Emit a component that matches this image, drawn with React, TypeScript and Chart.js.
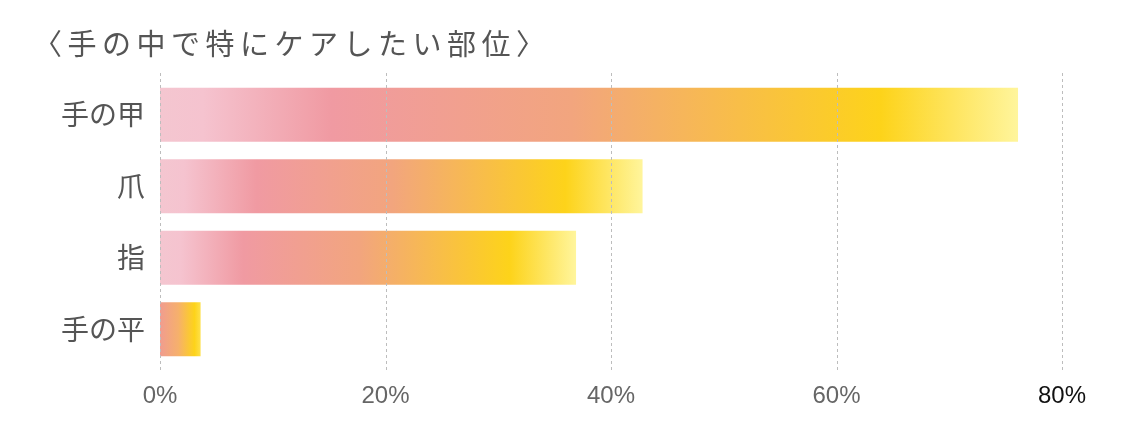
import React, { useEffect, useRef } from 'react';
import Chart from 'chart.js/auto';

const title = '〈手の中で特にケアしたい部位〉';
const categories = ['手の甲', '爪', '指', '手の平'];
const values = [76.1, 42.8, 36.9, 3.6];
const xTickValues = [0, 20, 40, 60, 80];
const xTickColors = ['#666666', '#666666', '#666666', '#666666', '#111111'];

// gradient stops along each bar (start -> end)
const longBarStops: [number, string][] = [
  [0, '#f4c6d0'],
  [0.05, '#f5c3cf'],
  [0.2, '#f09aa2'],
  [0.48, '#f2a57e'],
  [0.84, '#fdd31a'],
  [1, '#fff59c'],
];
const shortBarStops: [number, string][] = [
  [0, '#f09c90'],
  [0.45, '#f6b06c'],
  [0.85, '#fdd31a'],
  [1, '#fee04a'],
];

const gridLines = {
  id: 'gridLines',
  afterDatasetsDraw(chart: any) {
    const { ctx, chartArea, scales } = chart;
    const x = scales.x;
    ctx.save();
    ctx.strokeStyle = '#bdbdbd';
    ctx.lineWidth = 1;
    ctx.setLineDash([3, 3]);
    xTickValues.forEach((v) => {
      const px = Math.round(x.getPixelForValue(v)) + 0.5;
      ctx.beginPath();
      ctx.moveTo(px, chartArea.top - 6);
      ctx.lineTo(px, chartArea.bottom + 5);
      ctx.stroke();
    });
    ctx.restore();
  },
};

export default function App() {
  const chartRef = useRef<HTMLCanvasElement>(null);
  const chartInstance = useRef<Chart | null>(null);

  useEffect(() => {
    if (!chartRef.current) return;
    if (chartInstance.current) chartInstance.current.destroy();
    const ctx = chartRef.current.getContext('2d');
    if (!ctx) return;

    chartInstance.current = new Chart(ctx, {
      type: 'bar',
      data: {
        labels: categories,
        datasets: [
          {
            data: values,
            backgroundColor: (c: any) => {
              const chart = c.chart;
              const xs = chart.scales?.x;
              if (!chart.chartArea || !xs || c.dataIndex === undefined) return '#f2a57e';
              const x0 = xs.getPixelForValue(0);
              const x1 = xs.getPixelForValue(values[c.dataIndex]);
              const g = chart.ctx.createLinearGradient(x0, 0, x1, 0);
              const stops = x1 - x0 < 100 ? shortBarStops : longBarStops;
              stops.forEach(([o, col]) => g.addColorStop(o, col));
              return g;
            },
            borderWidth: 0,
            categoryPercentage: 0.755,
            barPercentage: 1,
          },
        ],
      },
      options: {
        indexAxis: 'y',
        responsive: true,
        maintainAspectRatio: false,
        animation: false,
        layout: { padding: { top: 79, right: 72, left: 0, bottom: 0 } },
        plugins: {
          legend: { display: false },
          tooltip: { enabled: false },
          title: { display: false },
        },
        scales: {
          x: {
            min: 0,
            max: 80,
            afterBuildTicks: (scale: any) => {
              scale.ticks = xTickValues.map((v) => ({ value: v }));
            },
            afterFit: (scale: any) => {
              scale.height = 60;
            },
            grid: { display: false, drawTicks: false },
            border: { display: false },
            ticks: {
              padding: 17,
              color: (c: any) => xTickColors[c.index] || '#666666',
              font: { family: '"Liberation Sans", Arial, sans-serif', size: 24 },
              callback: (v: any) => v + '%',
            },
          },
          y: {
            afterFit: (scale: any) => {
              scale.width = 160;
            },
            grid: { display: false, drawTicks: false },
            border: { display: false },
            ticks: {
              padding: 15,
              color: '#555555',
              font: { family: '"Noto Sans CJK JP", sans-serif', size: 28 },
            },
          },
        },
      },
      plugins: [gridLines],
    });

    return () => {
      if (chartInstance.current) {
        chartInstance.current.destroy();
        chartInstance.current = null;
      }
    };
  }, []);

  return (
    <div style={{ position: 'fixed', left: 0, top: 0, width: 1134, height: 425, background: '#ffffff' }}>
      <div
        style={{
          position: 'absolute',
          left: 33,
          top: 28,
          fontFamily: '"Noto Sans CJK JP", sans-serif',
          fontSize: 29,
          lineHeight: '29px',
          letterSpacing: 5.5,
          color: '#555555',
          whiteSpace: 'nowrap',
        }}
      >
        {title}
      </div>
      <canvas ref={chartRef}></canvas>
    </div>
  );
}
